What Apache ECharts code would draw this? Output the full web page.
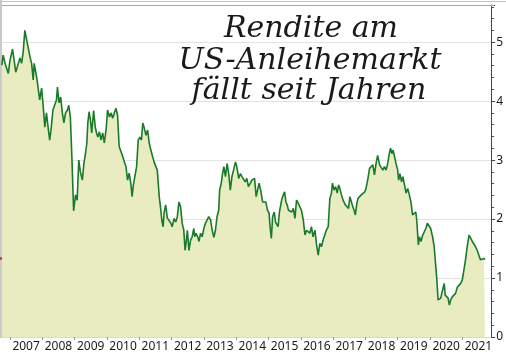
<!DOCTYPE html>
<html>
<head>
<meta charset="utf-8">
<script src="https://cdn.jsdelivr.net/npm/echarts@6/dist/echarts.min.js"></script>
<style>html,body{margin:0;padding:0;background:#fff;}#c{width:506px;height:357px;}</style>
</head>
<body>
<div id="c"></div>
<script>
const titleLines = ['Rendite am', 'US-Anleihemarkt', 'fällt seit Jahren'];
const yearTicks = [2007,2008,2009,2010,2011,2012,2013,2014,2015,2016,2017,2018,2019,2020,2021];
const yearLabelPos = [2007.5,2008.5,2009.5,2010.5,2011.5,2012.5,2013.5,2014.5,2015.5,2016.5,2017.5,2018.5,2019.5,2020.5,2021.5];
const yLabels = [0,1,2,3,4,5];
const years = [
2006.75,2006.79,2006.85,2006.90,2006.95,2007.00,2007.08,2007.12,2007.18,2007.26,2007.31,2007.36,2007.41,2007.46,2007.51,2007.56,2007.62,2007.67,2007.72,2007.75,2007.80,2007.84,2007.92,2007.98,
2008.02,2008.08,2008.13,2008.18,2008.23,2008.28,2008.33,2008.38,2008.44,2008.47,2008.52,2008.57,2008.62,2008.67,2008.72,2008.78,2008.82,2008.87,2008.92,2008.97,
2009.03,2009.08,2009.13,2009.18,2009.24,2009.29,2009.34,2009.38,2009.41,2009.45,2009.49,2009.53,2009.59,2009.64,2009.68,2009.72,2009.77,2009.82,2009.87,2009.92,2009.98,
2010.02,2010.08,2010.13,2010.18,2010.23,2010.28,2010.33,2010.38,2010.44,2010.49,2010.54,2010.59,2010.64,2010.69,2010.74,2010.78,2010.82,2010.87,2010.92,2010.97,
2011.02,2011.07,2011.11,2011.15,2011.21,2011.26,2011.31,2011.36,2011.41,2011.46,2011.51,2011.56,2011.62,2011.67,2011.70,2011.74,2011.77,2011.82,2011.87,2011.92,2011.98,
2012.02,2012.08,2012.13,2012.18,2012.23,2012.28,2012.33,2012.38,2012.42,2012.46,2012.49,2012.54,2012.59,2012.64,2012.69,2012.72,2012.76,2012.81,2012.85,2012.90,2012.95,
2013.00,2013.05,2013.10,2013.15,2013.21,2013.26,2013.31,2013.36,2013.41,2013.46,2013.49,2013.54,2013.58,2013.62,2013.67,2013.72,2013.77,2013.82,2013.87,2013.92,2013.98,
2014.02,2014.08,2014.13,2014.18,2014.23,2014.28,2014.33,2014.38,2014.44,2014.49,2014.54,2014.57,2014.62,2014.66,2014.71,2014.76,2014.82,2014.87,2014.92,2014.97,
2015.02,2015.05,2015.09,2015.13,2015.18,2015.22,2015.26,2015.30,2015.34,2015.38,2015.42,2015.46,2015.50,2015.54,2015.58,2015.62,2015.67,2015.72,2015.77,2015.82,2015.87,2015.92,2015.98,
2016.02,2016.08,2016.13,2016.18,2016.23,2016.28,2016.33,2016.38,2016.44,2016.49,2016.54,2016.59,2016.64,2016.69,2016.74,2016.79,2016.85,2016.90,2016.95,2016.98,
2017.03,2017.08,2017.13,2017.17,2017.21,2017.26,2017.31,2017.34,2017.38,2017.43,2017.48,2017.52,2017.56,2017.61,2017.65,2017.69,2017.73,2017.77,2017.82,2017.87,2017.92,2017.98,
2018.02,2018.08,2018.13,2018.18,2018.23,2018.28,2018.33,2018.38,2018.44,2018.49,2018.54,2018.59,2018.64,2018.69,2018.74,2018.78,2018.82,2018.86,2018.90,2018.95,
2019.00,2019.03,2019.07,2019.12,2019.16,2019.21,2019.26,2019.31,2019.36,2019.41,2019.46,2019.51,2019.56,2019.59,2019.64,2019.67,2019.72,2019.77,2019.82,2019.87,2019.92,2019.98,
2020.02,2020.08,2020.13,2020.18,2020.21,2020.25,2020.29,2020.33,2020.38,2020.44,2020.47,2020.51,2020.56,2020.60,2020.64,2020.69,2020.74,2020.79,2020.85,2020.90,2020.95,
2021.00,2021.05,2021.10,2021.15,2021.21,2021.26,2021.31,2021.36,2021.41,2021.46,2021.51,2021.56,2021.62,2021.67,2021.70
];
const yields = [
4.61,4.78,4.64,4.66,4.47,4.69,4.88,4.73,4.49,4.64,4.73,4.64,4.83,5.20,5.17,4.92,4.75,4.64,4.36,4.64,4.66,4.36,4.02,4.22,
3.97,3.56,3.80,3.56,3.34,3.56,3.85,3.85,4.02,4.24,3.97,4.07,3.81,3.63,3.80,3.85,3.93,3.73,3.00,2.14,
2.41,2.32,3.00,2.80,2.66,2.95,3.12,3.29,3.63,3.82,3.68,3.46,3.84,3.56,3.46,3.39,3.48,3.34,3.46,3.29,3.54,
3.85,3.73,3.80,3.71,3.80,3.88,3.76,3.23,3.20,3.06,2.97,2.89,2.66,2.78,2.61,2.38,2.58,2.55,2.89,3.34,
3.39,3.34,3.63,3.56,3.42,3.51,3.29,3.17,3.20,2.97,3.00,2.83,2.38,2.15,1.98,1.87,2.10,2.24,2.02,2.04,1.93,
1.87,2.01,1.95,2.04,2.29,2.21,1.93,1.81,1.47,1.64,1.81,1.47,1.64,1.70,1.84,1.70,1.76,1.70,1.62,1.76,1.70,
1.84,1.93,1.98,2.04,1.98,1.81,1.69,1.81,2.04,2.15,2.49,2.61,2.77,2.89,2.72,2.94,2.77,2.49,2.72,2.83,2.97,
2.89,2.69,2.77,2.72,2.75,2.63,2.69,2.55,2.52,2.66,2.66,2.69,2.38,2.35,2.61,2.49,2.29,2.32,2.29,2.15,
2.10,1.87,1.67,2.04,2.12,1.95,1.93,1.87,2.12,2.15,2.35,2.41,2.46,2.29,2.24,2.15,2.18,2.12,2.18,2.01,2.32,2.27,2.29,
2.15,1.98,1.73,1.81,1.84,1.76,1.87,1.70,1.81,1.56,1.39,1.59,1.53,1.64,1.67,1.81,1.87,2.35,2.44,2.61,
2.49,2.55,2.44,2.58,2.52,2.41,2.32,2.35,2.24,2.21,2.18,2.38,2.35,2.21,2.15,2.07,2.24,2.35,2.32,2.41,2.38,2.46,
2.52,2.69,2.86,2.83,2.92,2.75,2.94,3.08,2.92,2.94,2.83,2.89,2.83,2.94,3.11,3.20,3.11,3.17,3.06,2.94,
2.83,2.66,2.77,2.63,2.72,2.58,2.44,2.52,2.41,2.29,2.07,2.04,2.12,1.98,1.56,1.70,1.62,1.72,1.78,1.84,1.93,1.90,
1.84,1.70,1.53,1.19,0.99,0.63,0.60,0.66,0.68,0.91,0.71,0.68,0.66,0.54,0.63,0.68,0.66,0.74,0.85,0.83,0.91,
0.97,1.14,1.31,1.53,1.73,1.70,1.62,1.64,1.53,1.47,1.39,1.31,1.28,1.33,1.31
];

const chart = echarts.init(document.getElementById('c'), null, {renderer: 'canvas'});
const seriesData = years.map((y, i) => [y, yields[i]]);
const titleFont = 'italic 30px "DejaVu Serif"';
chart.setOption({
  animation: false,
  backgroundColor: '#ffffff',
  grid: {left: 2, right: 12, top: 5, bottom: 20, containLabel: false},
  xAxis: {
    type: 'value',
    min: 2006.754,
    max: 2021.892,
    axisLine: {show: true, lineStyle: {color: '#d8d8d8', width: 1}},
    axisTick: {show: true, length: 3, customValues: yearTicks, lineStyle: {color: '#999'}},
    axisLabel: {
      show: true, customValues: yearLabelPos,
      formatter: v => String(Math.floor(v)),
      color: '#1a1a1a', fontSize: 12, fontFamily: '"Noto Sans", sans-serif', margin: 4
    },
    splitLine: {show: false}
  },
  yAxis: {
    type: 'value',
    position: 'right',
    min: 0,
    max: 5.63,
    interval: 1,
    axisLine: {show: true, lineStyle: {color: '#444', width: 1}},
    axisTick: {show: true, length: 4, inside: false, lineStyle: {color: '#444'}},
    minorTick: {show: true, splitNumber: 5, length: 3, lineStyle: {color: '#555'}},
    axisLabel: {
      show: true, customValues: yLabels,
      color: '#1a1a1a', fontSize: 12, fontFamily: '"Noto Sans", sans-serif', margin: 5
    },
    splitLine: {show: true, lineStyle: {color: '#e2e2e2', width: 1}}
  },
  series: [{
    type: 'line',
    data: seriesData,
    showSymbol: false,
    symbol: 'none',
    lineStyle: {color: '#1a7a2c', width: 1.6},
    areaStyle: {color: '#e8ecc0', opacity: 1},
    z: 3
  }],
  graphic: [
    {type: 'rect', shape: {x: 0, y: 0, width: 2, height: 338}, style: {fill: '#c9c9c9'}, silent: true},
    {type: 'line', shape: {x1: 0, y1: 1.5, x2: 506, y2: 1.5}, style: {stroke: '#c4c4c4', lineWidth: 1}, silent: true},
    {type: 'line', shape: {x1: 2, y1: 5.5, x2: 494, y2: 5.5}, style: {stroke: '#a8a8a8', lineWidth: 1}, silent: true, z: 10},
    {type: 'rect', shape: {x: 0, y: 257, width: 2, height: 3}, style: {fill: '#d94040'}, silent: true, z: 10},
    {type: 'text', x: 311, y: 29, style: {text: titleLines[0], font: titleFont, fill: '#1a1a1a', textAlign: 'center', textVerticalAlign: 'middle'}, z: 20},
    {type: 'text', x: 310, y: 61, style: {text: titleLines[1], font: titleFont, fill: '#1a1a1a', textAlign: 'center', textVerticalAlign: 'middle'}, z: 20},
    {type: 'text', x: 309, y: 91, style: {text: titleLines[2], font: titleFont, fill: '#1a1a1a', textAlign: 'center', textVerticalAlign: 'middle'}, z: 20}
  ]
});
</script>
</body>
</html>
